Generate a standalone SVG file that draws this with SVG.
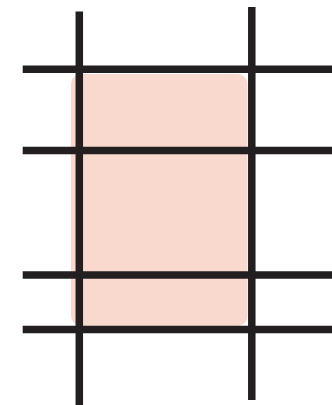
<svg xmlns="http://www.w3.org/2000/svg" width="332" height="405" viewBox="0 0 332 405">
<style>
.ln{stroke:#231f20;stroke-width:7.5;fill:none}
.area{fill:#f9d9cd}
</style>
<rect width="332" height="405" fill="#ffffff"/>
<g id="area"><rect class="area" x="71" y="74" width="176.5" height="252" rx="10"/></g>
<g id="grid">
<line class="ln" x1="79.3" y1="11.5" x2="79.3" y2="405"/>
<line class="ln" x1="251.8" y1="7" x2="251.8" y2="400"/>
<line class="ln" x1="22.7" y1="69.3" x2="332" y2="69.3"/>
<line class="ln" x1="22.7" y1="150.5" x2="332" y2="150.5"/>
<line class="ln" x1="22.7" y1="274.9" x2="332" y2="274.9"/>
<line class="ln" x1="22.7" y1="329.5" x2="332" y2="329.5"/>
</g>
</svg>
